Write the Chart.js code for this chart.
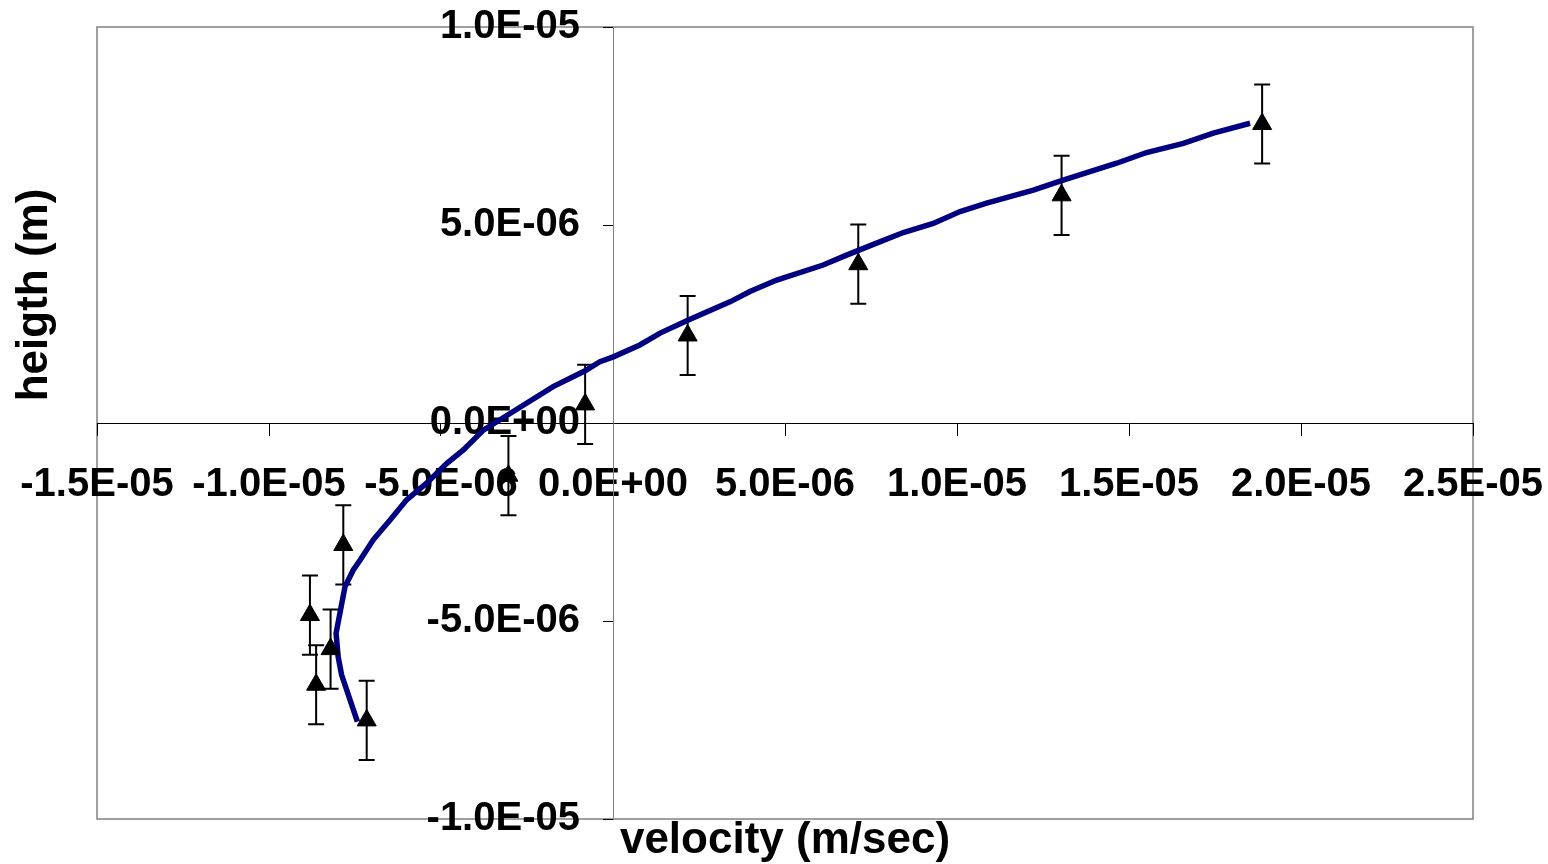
<!DOCTYPE html>
<html>
<head>
<meta charset="utf-8">
<script src="https://cdn.jsdelivr.net/npm/chart.js@4.4.1/dist/chart.umd.min.js"></script>
<style>
    html, body { margin: 0; padding: 0; background: #fff; }
    #wrap { width: 1548px; height: 864px; }
</style>
</head>
<body>
<div id="wrap"><canvas id="chart"></canvas></div>
<script>
// model curve (m/sec, m)
const curveVelocity = [-7.43e-6, -7.89e-6, -7.99e-6, -8.05e-6, -7.79e-6, -7.55e-6, -7.35e-6, -6.97e-6, -6.48e-6, -6.00e-6,
    -5.42e-6, -4.83e-6, -4.35e-6, -3.77e-6, -2.90e-6, -1.74e-6, -0.81e-6, -0.38e-6, 0.01e-6, 0.78e-6,
    1.37e-6, 2.19e-6, 3.40e-6, 3.98e-6, 4.76e-6, 6.11e-6, 6.79e-6, 7.57e-6, 8.44e-6, 9.31e-6,
    10.09e-6, 10.86e-6, 12.22e-6, 13.04e-6, 14.64e-6, 15.51e-6, 16.58e-6, 17.45e-6, 18.52e-6];
const curveHeight = [-7.54e-6, -6.36e-6, -5.90e-6, -5.31e-6, -4.13e-6, -3.71e-6, -3.46e-6, -2.95e-6, -2.45e-6, -1.94e-6,
    -1.52e-6, -1.02e-6, -0.68e-6, -0.18e-6, 0.29e-6, 0.92e-6, 1.32e-6, 1.55e-6, 1.67e-6, 1.97e-6,
    2.27e-6, 2.60e-6, 3.06e-6, 3.32e-6, 3.61e-6, 3.99e-6, 4.24e-6, 4.51e-6, 4.81e-6, 5.04e-6,
    5.34e-6, 5.55e-6, 5.88e-6, 6.12e-6, 6.56e-6, 6.83e-6, 7.06e-6, 7.32e-6, 7.57e-6];

// measured points with error
const measVelocity = [18.87e-6, 13.04e-6, 7.13e-6, 2.17e-6, -0.81e-6, -3.04e-6, -7.84e-6, -8.81e-6, -8.21e-6, -8.63e-6, -7.16e-6];
const measHeight = [7.55e-6, 5.75e-6, 4.01e-6, 2.21e-6, 0.47e-6, -1.33e-6, -3.08e-6, -4.85e-6, -5.71e-6, -6.61e-6, -7.51e-6];
const measError = [1.0e-6, 1.0e-6, 1.0e-6, 1.0e-6, 1.0e-6, 1.0e-6, 1.0e-6, 1.0e-6, 1.0e-6, 1.0e-6, 1.0e-6];

// axis ticks
const xTickValues = [-1.5e-5, -1.0e-5, -5.0e-6, 0, 5.0e-6, 1.0e-5, 1.5e-5, 2.0e-5, 2.5e-5];
const yTickValues = [-1.0e-5, -5.0e-6, 0, 5.0e-6, 1.0e-5];
// y labels sit a bit left of the y axis (in velocity units)
const yLabelOffset = -0.96e-6;

const xTitle = 'velocity (m/sec)';
const yTitle = 'heigth (m)';

const FONT = '"Liberation Sans", Arial, sans-serif';
const tickFont = { family: FONT, size: 40, weight: 'bold' };

function sci(v) {
    if (Math.abs(v) < 1e-12) v = 0;
    const [m, e] = Number(v).toExponential(1).split('e');
    const n = parseInt(e, 10);
    return m + 'E' + (n < 0 ? '-' : '+') + String(Math.abs(n)).padStart(2, '0');
}

// axes cross inside the plot, so they should not push the plot area around
function noSpace(s) {
    if (s.isHorizontal()) s.height = 0; else s.width = 0;
    s.paddingLeft = s.paddingRight = s.paddingTop = s.paddingBottom = 0;
}

const frame = {
    id: 'frame',
    beforeDraw(chart) {
        const {ctx, chartArea: a} = chart;
        ctx.save();
        ctx.strokeStyle = '#808080';
        ctx.lineWidth = 1.5;
        ctx.strokeRect(a.left, a.top, a.right - a.left, a.bottom - a.top);
        ctx.restore();
    }
};

const errorBars = {
    id: 'errorBars',
    beforeDatasetsDraw(chart) {
        const {ctx, scales: {x, y}} = chart;
        ctx.save();
        ctx.strokeStyle = '#000';
        ctx.lineWidth = 2;
        measVelocity.forEach((v, i) => {
            const px = x.getPixelForValue(v);
            const top = y.getPixelForValue(measHeight[i] + measError[i]);
            const bot = y.getPixelForValue(measHeight[i] - measError[i]);
            ctx.beginPath();
            ctx.moveTo(px, top); ctx.lineTo(px, bot);
            ctx.moveTo(px - 8, top); ctx.lineTo(px + 8, top);
            ctx.moveTo(px - 8, bot); ctx.lineTo(px + 8, bot);
            ctx.stroke();
        });
        ctx.restore();
    }
};

const axisTitles = {
    id: 'axisTitles',
    afterDraw(chart) {
        const {ctx, chartArea: a} = chart;
        ctx.save();
        ctx.fillStyle = '#000';
        ctx.font = 'bold 44px ' + FONT;
        ctx.textAlign = 'center';
        ctx.textBaseline = 'middle';
        ctx.fillText(xTitle, (a.left + a.right) / 2, a.bottom + 22);
        ctx.translate(a.left - 62, a.top + 268);
        ctx.rotate(-Math.PI / 2);
        ctx.fillText(yTitle, 0, 0);
        ctx.restore();
    }
};

const ctx = document.getElementById('chart').getContext('2d');
const chart = new Chart(ctx, {
    type: 'scatter',
    data: {
        datasets: [
            {
                label: 'model',
                data: curveVelocity.map((v, i) => ({ x: v, y: curveHeight[i] })),
                showLine: true,
                borderColor: '#000080',
                borderWidth: 5.5,
                pointRadius: 0,
                tension: 0,
                order: 2
            },
            {
                label: 'measured',
                data: measVelocity.map((v, i) => ({ x: v, y: measHeight[i] })),
                pointStyle: 'triangle',
                pointRadius: 11,
                backgroundColor: '#000',
                borderColor: '#000',
                borderWidth: 1,
                order: 1
            }
        ]
    },
    options: {
        responsive: true,
        maintainAspectRatio: false,
        animation: false,
        layout: { padding: { left: 97, right: 75, top: 27, bottom: 45 } },
        plugins: {
            legend: { display: false },
            tooltip: { enabled: false }
        },
        scales: {
            x: {
                type: 'linear',
                position: { y: 0 },
                min: -1.5e-5,
                max: 2.5e-5,
                afterBuildTicks: s => { s.ticks = xTickValues.map(v => ({ value: v })); },
                afterFit: noSpace,
                grid: { drawOnChartArea: false, drawTicks: true, tickLength: 12, tickColor: '#000', color: '#000' },
                border: { display: true, color: '#000', width: 1 },
                ticks: {
                    callback: v => sci(v),
                    font: tickFont,
                    color: '#000',
                    padding: 26,
                    maxRotation: 0,
                    minRotation: 0,
                    autoSkip: false
                }
            },
            y: {
                type: 'linear',
                position: { x: 0 },
                min: -1.0e-5,
                max: 1.0e-5,
                afterBuildTicks: s => { s.ticks = yTickValues.map(v => ({ value: v })); },
                afterFit: noSpace,
                grid: { drawOnChartArea: false, drawTicks: true, tickLength: 10, tickColor: '#000', color: '#000' },
                border: { display: true, color: '#808080', width: 1 },
                ticks: { display: false }
            },
            yLabels: {
                type: 'linear',
                axis: 'y',
                position: { x: yLabelOffset },
                min: -1.0e-5,
                max: 1.0e-5,
                afterBuildTicks: s => { s.ticks = yTickValues.map(v => ({ value: v })); },
                afterFit: noSpace,
                grid: { display: false },
                border: { display: false },
                ticks: {
                    callback: v => sci(v),
                    font: tickFont,
                    color: '#000',
                    autoSkip: false
                }
            }
        }
    },
    plugins: [frame, errorBars, axisTitles]
});
</script>
</body>
</html>
